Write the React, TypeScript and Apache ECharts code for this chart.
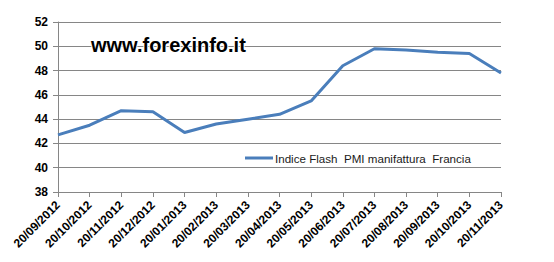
import React, { useEffect, useRef } from "react";
import * as echarts from "echarts";

const categories = [
  "20/09/2012", "20/10/2012", "20/11/2012", "20/12/2012", "20/01/2013",
  "20/02/2013", "20/03/2013", "20/04/2013", "20/05/2013", "20/06/2013",
  "20/07/2013", "20/08/2013", "20/09/2013", "20/10/2013", "20/11/2013",
];
const pmiValues = [42.7, 43.5, 44.7, 44.6, 42.9, 43.6, 44.0, 44.4, 45.5, 48.4, 49.8, 49.7, 49.5, 49.4, 47.8];
const seriesName = "Indice Flash  PMI manifattura  Francia";
const watermark = "www.forexinfo.it";

export default function App() {
  const ref = useRef<HTMLDivElement>(null);
  useEffect(() => {
    if (!ref.current) return;
    const chart = echarts.init(ref.current, undefined, { renderer: "svg" });
    chart.setOption({
      animation: false,
      backgroundColor: "#ffffff",
      grid: { left: 58, right: 53, top: 22, bottom: 70, containLabel: false },
      legend: {
        left: 240,
        top: 147,
        icon: "rect",
        itemWidth: 28,
        itemHeight: 3,
        itemGap: 4,
        textStyle: { fontFamily: "Liberation Sans", fontSize: 11.6, color: "#1a1a1a", padding: [0, 0, 0, -3] },
        data: [seriesName],
      },
      xAxis: {
        type: "category",
        data: categories,
        boundaryGap: false,
        axisLine: { lineStyle: { color: "#868686", width: 1 } },
        axisTick: { show: true, alignWithLabel: true, length: 5, lineStyle: { color: "#868686" } },
        axisLabel: {
          rotate: 45,
          interval: 0,
          fontFamily: "Liberation Sans",
          fontWeight: "bold",
          fontSize: 12,
          color: "#000",
          margin: 11,
        },
        splitLine: { show: false },
      },
      yAxis: {
        type: "value",
        min: 38,
        max: 52,
        interval: 2,
        axisLine: { show: true, lineStyle: { color: "#868686", width: 1 } },
        axisTick: { show: true, length: 5, lineStyle: { color: "#868686" } },
        axisLabel: {
          fontFamily: "Liberation Sans",
          fontWeight: "bold",
          fontSize: 12,
          color: "#000",
          margin: 10,
        },
        splitLine: { show: true, lineStyle: { color: "#868686", width: 1 } },
      },
      series: [
        {
          name: seriesName,
          type: "line",
          data: pmiValues,
          showSymbol: false,
          symbol: "none",
          lineStyle: { color: "#4a7ebb", width: 3 },
          itemStyle: { color: "#4a7ebb" },
        },
      ],
      graphic: [
        {
          type: "text",
          left: 90,
          top: 34,
          z: 100,
          style: {
            text: watermark,
            fontFamily: "Liberation Sans",
            fontWeight: "bold",
            fontSize: 20,
            fill: "#000",
            stroke: "#ffffff",
            lineWidth: 2,
            shadowColor: "rgba(0,0,0,0.5)",
            shadowBlur: 3,
            shadowOffsetX: 2,
            shadowOffsetY: 2,
          },
        },
      ],
    });
    return () => chart.dispose();
  }, []);
  return <div ref={ref} style={{ width: 554, height: 262, marginLeft: -8, marginTop: -8 }} />;
}
